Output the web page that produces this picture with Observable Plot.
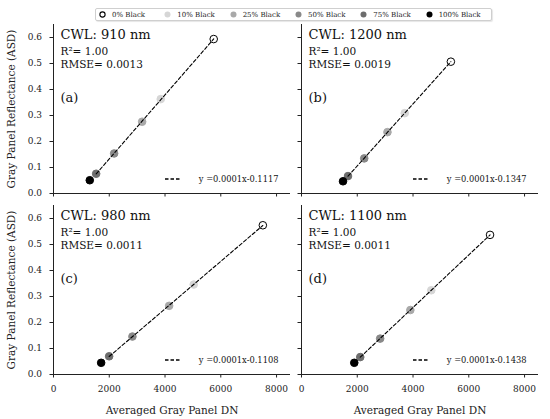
<!DOCTYPE html>
<html><head><meta charset="utf-8">
<script src="https://cdn.jsdelivr.net/npm/d3@7"></script>
<script src="https://cdn.jsdelivr.net/npm/@observablehq/plot@0.6"></script>
<style>
body{margin:0;background:#fff;font-family:"DejaVu Serif",serif;}
#fig{position:relative;width:550px;height:419px;overflow:hidden;}
.p{position:absolute;}
#legend{position:absolute;left:95px;top:8px;width:392px;height:11px;border:1px solid #cfcfcf;border-radius:2px;box-shadow:1px 1px 1px #e6e6e6;display:flex;align-items:center;padding-left:3px;font-size:7px;color:#222;background:#fff;}
.li{display:flex;align-items:center;width:66.6px;}
.li svg{margin-right:6px;}
</style></head>
<body><div id="fig"><div id="legend"></div></div>
<script>
// ---- data ----
const levels = ["0% Black","10% Black","25% Black","50% Black","75% Black","100% Black"];
const fills  = ["white","#d6d6d6","#a9a9a9","#898989","#6d6d6d","black"];
const panelTags = ["(a)","(b)","(c)","(d)"];
const cwl = ["CWL: 910 nm","CWL: 1200 nm","CWL: 980 nm","CWL: 1100 nm"];
const r2 = ["R\u00b2= 1.00","R\u00b2= 1.00","R\u00b2= 1.00","R\u00b2= 1.00"];
const rmse = ["RMSE= 0.0013","RMSE= 0.0019","RMSE= 0.0011","RMSE= 0.0011"];
const equations = ["y =0.0001x-0.1117","y =0.0001x-0.1347","y =0.0001x-0.1108","y =0.0001x-0.1438"];
// DN and reflectance per panel, ordered as levels
const dnA = [5746, 3846, 3179, 2175, 1530, 1301];
const reflA = [0.594, 0.363, 0.276, 0.154, 0.076, 0.051];
const dnB = [5357, 3703, 3083, 2250, 1668, 1489];
const reflB = [0.507, 0.309, 0.236, 0.135, 0.067, 0.047];
const dnC = [7508, 5029, 4147, 2831, 1996, 1709];
const reflC = [0.574, 0.346, 0.264, 0.146, 0.070, 0.045];
const dnD = [6762, 4654, 3904, 2821, 2107, 1893];
const reflD = [0.537, 0.324, 0.248, 0.138, 0.067, 0.045];
const xTicks = [0, 2000, 4000, 6000, 8000];
const yTicks = [0, 0.1, 0.2, 0.3, 0.4, 0.5, 0.6];
const xLabel = "Averaged Gray Panel DN";
const yLabel = "Gray Panel Reflectance (ASD)";

const dns = [dnA, dnB, dnC, dnD];
const refls = [reflA, reflB, reflC, reflD];

// ---- legend ----
const leg = d3.select("#legend");
levels.forEach((lv, j) => {
  const it = leg.append("div").attr("class", "li");
  const s = it.append("svg").attr("width", 7).attr("height", 7);
  s.append("circle").attr("cx", 3.5).attr("cy", 3.5).attr("r", fills[j] === "white" ? 2.6 : 3)
    .attr("fill", fills[j]).attr("stroke", fills[j] === "white" ? "black" : "none").attr("stroke-width", 1.1);
  it.append("span").text(lv);
});

// least-squares fit over the points (black excluded, as in the reference line extent)
function fitLine(rows) {
  const mx = d3.mean(rows, d => d.dn), my = d3.mean(rows, d => d.refl);
  const b = d3.sum(rows, d => (d.dn - mx) * (d.refl - my)) / d3.sum(rows, d => (d.dn - mx) ** 2);
  const a = my - b * mx;
  const [x0, x1] = d3.extent(rows, d => d.dn);
  return [x0, x1].map(x => ({dn: x, refl: a + b * x}));
}

// ---- panels ----
const layout = [
  {left: 0,   top: 20,  width: 295, height: 180, mL: 53, mR: 5,  mT: 4, mB: 7,  leftCol: true,  bottom: false},
  {left: 295, top: 20,  width: 255, height: 180, mL: 6,  mR: 12, mT: 4, mB: 7,  leftCol: false, bottom: false},
  {left: 0,   top: 200, width: 295, height: 219, mL: 53, mR: 5,  mT: 5, mB: 45, leftCol: true,  bottom: true},
  {left: 295, top: 200, width: 255, height: 219, mL: 6,  mR: 12, mT: 5, mB: 45, leftCol: false, bottom: true}
];

layout.forEach((L, i) => {
  const rows = levels.map((lv, j) => ({dn: dns[i][j], refl: refls[i][j], level: lv, fill: fills[j]}));
  const fit = fitLine(rows.filter(d => d.level !== "100% Black"));
  const dashSample = (index, scales, values, dim) => {
    const xr = dim.width - dim.marginRight;
    const yb = dim.height - dim.marginBottom - 14;
    return d3.create("svg:line")
      .attr("x1", xr - 125).attr("x2", xr - 109).attr("y1", yb).attr("y2", yb)
      .attr("stroke", "black").attr("stroke-width", 1.3).attr("stroke-dasharray", "3.5,2").node();
  };
  const marks = [
    Plot.axisX({ticks: xTicks, tickSize: 3.5, tickPadding: 8,
      tickFormat: L.bottom ? (d => String(d)) : (() => ""), label: null, fontSize: 9}),
    Plot.axisY({ticks: yTicks, tickSize: 3.5, tickPadding: 8,
      tickFormat: L.leftCol ? d3.format(".1f") : (() => ""), label: null, fontSize: 9}),
    Plot.ruleX([0], {stroke: "#222", strokeWidth: 1}),
    Plot.ruleY([0], {stroke: "#222", strokeWidth: 1}),
    Plot.dot(rows, {x: "dn", y: "refl", r: 3.8, fill: "fill",
      stroke: d => d.fill === "white" ? "black" : d.fill, strokeWidth: 1}),
    Plot.line(fit, {x: "dn", y: "refl", stroke: "black", strokeWidth: 1.1, strokeDasharray: "3.5,2.2"}),
    Plot.text([cwl[i]], {text: d => d, frameAnchor: "top-left", textAnchor: "start", lineAnchor: "top", dx: 7, dy: 5, fontSize: 13, fill: "#111"}),
    Plot.text([r2[i]], {text: d => d, frameAnchor: "top-left", textAnchor: "start", lineAnchor: "top", dx: 7, dy: 23, fontSize: 10.5, fill: "#111"}),
    Plot.text([rmse[i]], {text: d => d, frameAnchor: "top-left", textAnchor: "start", lineAnchor: "top", dx: 7, dy: 36, fontSize: 10.5, fill: "#111"}),
    Plot.text([panelTags[i]], {text: d => d, frameAnchor: "top-left", textAnchor: "start", lineAnchor: "top", dx: 7, dy: 68, fontSize: 13, fill: "#111"}),
    Plot.text([equations[i]], {text: d => d, frameAnchor: "bottom-right", textAnchor: "end", lineAnchor: "middle", dx: -12, dy: -14, fontSize: 8.3, fill: "#111"}),
    dashSample
  ];
  if (L.bottom) marks.push(Plot.axisX({ticks: [], label: xLabel, labelAnchor: "center", labelOffset: 39, labelArrow: "none", fontSize: 10.5}));
  if (L.leftCol) marks.push(Plot.axisY({ticks: [], label: yLabel, labelAnchor: "center", labelOffset: 46, labelArrow: "none", fontSize: 10.5}));
  const chart = Plot.plot({
    width: L.width, height: L.height,
    marginLeft: L.mL, marginRight: L.mR, marginTop: L.mT, marginBottom: L.mB,
    style: {fontFamily: "DejaVu Serif", fontSize: "9px", background: "transparent", color: "#222"},
    x: {domain: [0, 8500], label: null},
    y: {domain: [0, 0.65], label: null},
    color: {type: "identity"},
    marks
  });
  chart.classList.add("p");
  chart.style.left = L.left + "px";
  chart.style.top = L.top + "px";
  document.getElementById("fig").appendChild(chart);
});
</script>
</body></html>
